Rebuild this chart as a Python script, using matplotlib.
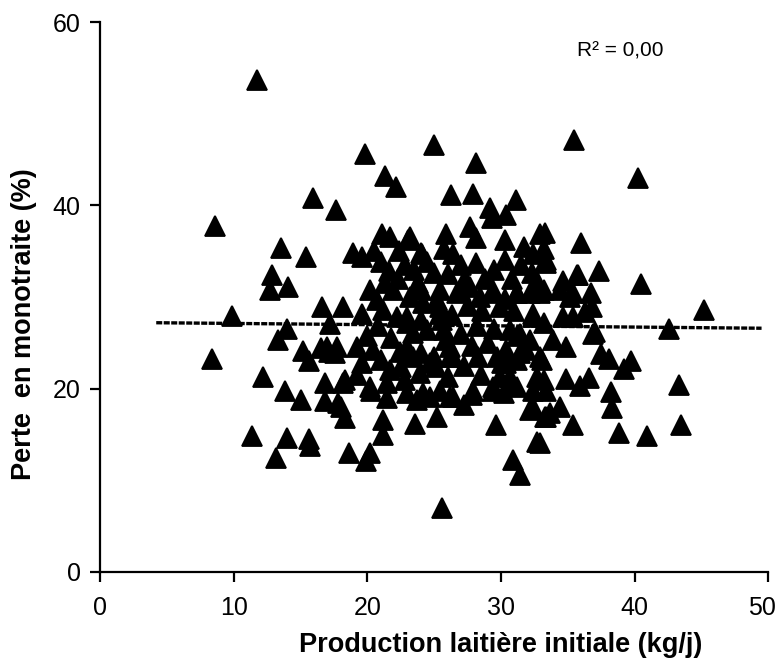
import matplotlib
matplotlib.use("Agg")
import matplotlib.pyplot as plt
import matplotlib.transforms as mtransforms
import numpy as np

plt.rcParams['font.family'] = ['Liberation Sans', 'DejaVu Sans']

# initial milk production (kg/j) vs loss under once-a-day milking (%)
prod = [11.75, 8.6, 8.35, 9.85, 12.2, 11.35, 13.85, 15.05, 14.0, 15.6, 15.7, 13.2,
        13.3, 14.0, 15.2, 15.6, 16.6, 16.5, 17.1, 16.8, 16.8, 12.85, 12.7, 14.05,
        13.5, 15.4, 15.95, 17.65, 18.2, 19.6, 17.2, 17.0, 17.7, 17.6,
        18.2, 19.2, 20.3, 18.0, 18.3, 21.2, 21.2, 18.6, 20.2, 19.9,
        17.8, 18.3, 20.2, 21.5, 21.5, 21.0, 21.7, 22.5, 20.4, 20.0, 22.45, 22.95,
        24.0, 24.7, 25.1, 26.4, 26.2, 25.7, 24.45, 23.4, 22.95, 24.0, 25.45, 25.2,
        22.2, 21.2, 20.7, 20.2, 21.9, 24.0, 26.9, 28.4, 29.4, 29.9, 31.2, 32.4,
        32.2, 30.7, 31.2,
        23.6, 25.2, 23.7, 23.0, 24.2, 25.45, 26.4, 27.2, 27.9, 29.4, 30.2, 29.9,
        30.1, 30.4, 31.2, 31.4, 32.2, 33.05, 33.2, 32.4, 32.2, 33.3, 28.3, 29.6,
        32.7, 30.9, 31.4, 25.6, 23.95, 24.7, 26.2, 27.8, 23.45, 24.95, 26.2, 25.9,
        22.95, 23.2, 24.2, 25.4, 25.6, 29.4, 30.4, 29.7, 31.2, 31.9, 32.9, 33.9,
        34.9, 31.4, 30.7, 32.4, 34.65, 35.4, 36.3, 36.9, 36.8, 35.2, 34.4, 33.2,
        33.2, 36.7, 35.4, 34.65, 35.8, 37.3, 32.7, 32.9, 40.5, 45.2, 42.6, 43.3,
        43.5, 38.85, 40.9, 35.4, 38.2, 38.3, 37.5, 38.1, 39.75, 39.2, 36.6, 35.9,
        34.9, 32.7, 33.4, 30.7, 32.4, 33.7, 34.4, 33.4, 32.9, 37.05,
        19.8, 24.95, 28.15, 21.3, 22.15, 26.25, 27.9, 29.2, 30.4, 31.15, 29.3, 35.5,
        40.25, 36.0, 33.3, 33.4, 35.7, 25.9, 25.7, 26.4, 27.7, 28.1, 30.3, 30.3,
        28.1, 32.9, 33.2, 32.4, 33.4, 32.3, 18.9, 19.6, 21.1, 21.7, 23.05, 24.1,
        23.2, 24.0, 24.95, 25.4, 26.7, 27.7, 29.4, 30.3, 31.2,
        20.5, 21.0, 21.6, 21.3, 22.4, 22.8, 22.3, 23.5, 23.8, 24.5, 26.0, 27.0,
        27.3, 28.8, 29.5, 30.8, 31.5, 31.7, 31.0, 28.6, 27.5, 26.3, 28.2, 29.5,
        27.0, 27.8, 29.0, 27.2, 26.0, 28.5, 22.8, 21.8, 19.6, 20.8, 19.2]

loss = [53.7, 37.8, 23.2, 27.9, 21.3, 14.8, 19.7, 18.8, 14.6, 14.5, 13.8, 12.4,
        25.3, 26.5, 24.1, 23.0, 28.9, 24.4, 24.0, 20.6, 18.7, 32.4, 30.8, 31.1,
        35.4, 34.4, 40.8, 39.5, 28.9, 28.2, 27.1, 24.6, 24.6, 23.9,
        20.6, 21.5, 19.8, 18.0, 16.8, 16.6, 14.9, 13.0, 13.0, 12.1,
        18.4, 20.9, 20.2, 19.0, 20.6, 23.1, 22.0, 22.4, 24.2, 25.7, 24.0, 24.6,
        23.9, 22.8, 22.4, 23.5, 24.6, 26.4, 26.4, 26.1, 27.2, 27.5, 28.2, 29.7,
        27.8, 28.6, 29.7, 30.8, 30.8, 30.8, 30.8, 30.0, 30.8, 28.9, 30.4, 28.2,
        30.4, 21.3, 20.2,
        16.2, 16.9, 18.8, 19.5, 19.5, 19.7, 19.1, 18.2, 19.7, 19.8, 19.5, 21.3,
        22.8, 24.2, 25.7, 23.9, 25.3, 23.1, 20.9, 19.8, 17.7, 16.9, 23.5, 16.0,
        14.2, 12.2, 10.6, 7.0, 21.7, 19.1, 19.1, 19.3, 23.5, 23.5, 23.5, 25.3,
        27.8, 30.0, 29.3, 28.9, 27.5, 20.2, 22.8, 23.5, 23.1, 24.2, 23.5, 25.3,
        24.6, 26.0, 26.4, 27.8, 27.8, 27.8, 28.4, 26.0, 28.9, 30.0, 30.8, 30.8,
        27.2, 30.4, 30.4, 31.7, 32.4, 32.9, 31.7, 30.4, 31.4, 28.6, 26.5, 20.4,
        16.0, 15.2, 14.8, 16.0, 19.6, 17.9, 23.8, 23.2, 23.0, 22.1, 21.2, 20.3,
        21.1, 21.3, 19.8, 20.6, 18.0, 17.3, 18.0, 16.9, 14.1, 26.2,
        45.6, 46.6, 44.6, 43.2, 42.0, 41.1, 41.3, 39.7, 39.0, 40.6, 38.6, 47.1,
        43.0, 35.9, 37.0, 34.0, 32.4, 36.9, 35.3, 34.7, 37.7, 36.4, 36.2, 34.0,
        33.7, 36.9, 35.3, 34.7, 33.7, 32.6, 34.8, 34.4, 36.9, 36.6, 36.2, 34.7,
        36.6, 34.8, 32.6, 30.8, 30.4, 31.1, 30.4, 29.8, 30.4,
        35.0, 33.8, 32.8, 31.5, 35.0, 33.5, 32.0, 33.0, 31.5, 33.8, 32.5, 33.5,
        32.0, 32.0, 33.0, 32.0, 33.5, 35.5, 28.5, 28.5, 29.0, 28.0, 26.8, 26.5,
        26.0, 24.7, 25.0, 22.5, 21.3, 21.5, 21.0, 25.5, 22.8, 26.8, 24.5]

# regression line ends
fit_x = [4.2, 49.5]
fit_y = [27.2, 26.6]

fig = plt.figure(figsize=(7.76, 6.64), dpi=100)
ax = fig.add_axes([0.129, 0.1386, 0.861, 0.828])

ax.plot(prod, loss, linestyle='none', marker='^', ms=14, color='black',
        mec='black', mew=1.3)
ax.plot(fit_x, fit_y, color='black', lw=2.4, linestyle=(0, (1.8, 0.45)))

ax.text(35.7, 56.9, 'R² = 0,00', fontsize=15, va='center', ha='left')

ax.set_xlim(0, 50)
ax.set_ylim(0, 60)
ax.set_xticks([0, 10, 20, 30, 40, 50])
ax.set_yticks([0, 20, 40, 60])

for s in ['top', 'right']:
    ax.spines[s].set_visible(False)
for s in ['left', 'bottom']:
    ax.spines[s].set_linewidth(1.6)

ax.tick_params(axis='both', direction='out', length=7, width=1.6, labelsize=18)
ax.tick_params(axis='x', pad=10)
ax.tick_params(axis='y', pad=7)

# nudge the last x label so it stays inside the canvas
last = ax.get_xticklabels()[-1]
last.set_transform(last.get_transform() +
                   mtransforms.ScaledTranslation(-6 / 100, 0, fig.dpi_scale_trans))

ax.set_xlabel('Production laitière initiale (kg/j)', fontsize=19.5,
              fontweight='bold', labelpad=9)
ax.set_ylabel('Perte  en monotraite (%)', fontsize=19.5, fontweight='bold',
              labelpad=11)
ax.xaxis.label.set_x(0.6)
ax.yaxis.label.set_y(0.45)

fig.savefig('out.png', dpi=100)
